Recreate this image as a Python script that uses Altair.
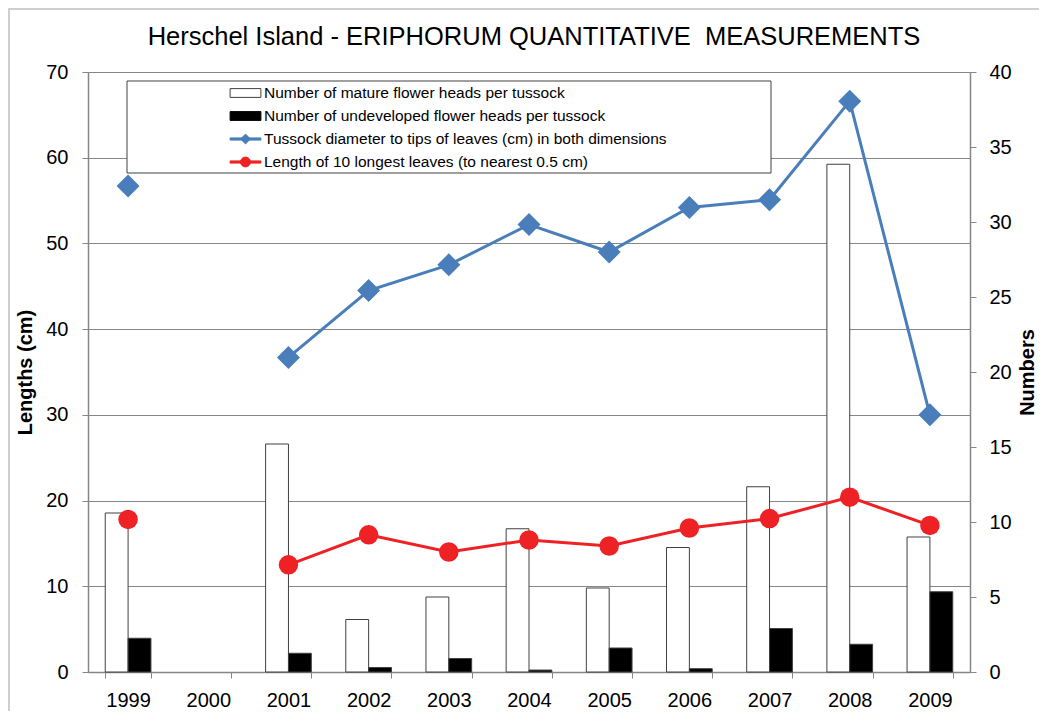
import altair as alt
import pandas as pd

# ---------------- data ----------------
years = ["1999", "2000", "2001", "2002", "2003", "2004", "2005", "2006", "2007", "2008", "2009"]
mature_heads = [10.6, None, 15.2, 3.5, 5.0, 9.55, 5.6, 8.3, 12.35, 33.85, 9.0]
undeveloped_heads = [2.25, None, 1.25, 0.3, 0.9, 0.13, 1.6, 0.22, 2.9, 1.85, 5.35]
tussock_diameter = [56.7, None, 36.7, 44.5, 47.5, 52.2, 49.0, 54.2, 55.1, 66.6, 30.0]
leaf_length = [17.8, None, 12.5, 16.0, 14.0, 15.4, 14.7, 16.8, 17.9, 20.4, 17.1]

legend_labels = [
    "Number of mature flower heads per tussock",
    "Number of undeveloped flower heads per tussock",
    "Tussock diameter to tips of leaves (cm) in both dimensions",
    "Length of 10 longest leaves (to nearest 0.5 cm)",
]
left_ticks = [0, 10, 20, 30, 40, 50, 60, 70]
right_ticks = [0, 5, 10, 15, 20, 25, 30, 35, 40]

title_text = "Herschel Island - ERIPHORUM QUANTITATIVE\u00a0 MEASUREMENTS"

# ---------------- style ----------------
FONT = "Liberation Sans"
GRAY = "#868686"
BLUE = "#4A7EBB"
RED = "#EE2224"

# ---------------- tables ----------------
bar_rows = []
for yr, m, u in zip(years, mature_heads, undeveloped_heads):
    if m is not None:
        bar_rows.append({"year": yr, "series": "mature", "value": m})
    if u is not None:
        bar_rows.append({"year": yr, "series": "undeveloped", "value": u})
bars_df = pd.DataFrame(bar_rows)


def line_table(vals):
    rows, seg = [], 0
    for yr, v in zip(years, vals):
        if v is None:
            seg += 1
            continue
        rows.append({"year": yr, "value": v, "seg": seg})
    return pd.DataFrame(rows)


diam_df = line_table(tussock_diameter)
leaf_df = line_table(leaf_length)
legend_df = pd.DataFrame({"name": legend_labels})
one_df = pd.DataFrame({"a": [0]})

# ---------------- encodings ----------------
x_enc = alt.X(
    "year:O",
    scale=alt.Scale(domain=years, paddingInner=0.43, paddingOuter=0.215),
    axis=alt.Axis(
        title=None, labelAngle=0, tickBand="extent", labelFontSize=20,
        labelFont=FONT, labelColor="black", labelPadding=12, tickSize=6,
        domainColor=GRAY, tickColor=GRAY, grid=False, domainWidth=1.5,
    ),
)

left_axis = alt.Axis(
    title="Lengths (cm)", orient="left", values=left_ticks, grid=True,
    gridColor=GRAY, gridWidth=1, domainColor=GRAY, tickColor=GRAY, tickSize=6,
    labelFontSize=20, labelFont=FONT, labelColor="black", labelPadding=14,
    titleFontSize=20, titleFont=FONT, titleFontWeight="bold", titleColor="black",
    titleX=-63, titleY=300, titleAngle=270, titleAlign="center", titleBaseline="middle",
    domainWidth=1.5,
)
y_left = alt.Y("value:Q", scale=alt.Scale(domain=[0, 70], nice=False, zero=True), axis=left_axis)

right_axis = alt.Axis(
    title="Numbers", orient="right", values=right_ticks, grid=False,
    domainColor=GRAY, tickColor=GRAY, tickSize=6,
    labelFontSize=20, labelFont=FONT, labelColor="black", labelPadding=13,
    titleFontSize=20, titleFont=FONT, titleFontWeight="bold", titleColor="black",
    titleX=57, titleY=300, titleAngle=270, titleAlign="center", titleBaseline="middle",
    domainWidth=1.5,
)
y_right = alt.Y("value:Q", scale=alt.Scale(domain=[0, 40], nice=False, zero=True), axis=right_axis)

# ---------------- layers ----------------
outer_border = alt.Chart(one_df).mark_rect(
    fill="transparent", stroke="#BFBFBF", strokeWidth=1.5
).encode(x=alt.value(-79), x2=alt.value(2000), y=alt.value(-63), y2=alt.value(2000))

legend_box = alt.Chart(one_df).mark_rect(
    fill="white", stroke="#404040", strokeWidth=1
).encode(x=alt.value(39), x2=alt.value(683), y=alt.value(9), y2=alt.value(101))

bars = alt.Chart(bars_df).mark_bar(stroke="#404040", strokeWidth=1).encode(
    x=x_enc,
    xOffset=alt.XOffset("series:N", scale=alt.Scale(domain=["mature", "undeveloped"])),
    y=y_right,
    fill=alt.condition(alt.datum.series == "mature", alt.value("white"), alt.value("black")),
)

diam_line = alt.Chart(diam_df).mark_line(color=BLUE, strokeWidth=3).encode(
    x=x_enc, y=y_left, detail="seg:N")
diam_pts = alt.Chart(diam_df).mark_point(
    shape="diamond", filled=True, color=BLUE, size=529, opacity=1).encode(x=x_enc, y=y_left)
leaf_line = alt.Chart(leaf_df).mark_line(color=RED, strokeWidth=3).encode(
    x=x_enc, y=y_left, detail="seg:N")
leaf_pts = alt.Chart(leaf_df).mark_point(
    shape="circle", filled=True, color=RED, size=380, opacity=1).encode(x=x_enc, y=y_left)

lines = alt.layer(diam_line, diam_pts, leaf_line, leaf_pts)

# legend symbols (custom paths, all sub-paths clockwise so they fill solid)
bar_path = "M-1.4,-0.4H1.4V0.4H-1.4Z"
blue_path = "M-1.4,-0.1H1.4V0.1H-1.4Z M0,-0.45L0.45,0L0,0.45L-0.45,0Z"
red_path = "M-1.4,-0.1H1.4V0.1H-1.4Z M-0.45,0A0.45,0.45 0 1,1 0.45,0A0.45,0.45 0 1,1 -0.45,0Z"

leg = alt.Legend(
    title=None, orient="none", legendX=146, legendY=9.5, padding=0,
    symbolSize=484, symbolStrokeWidth=1, symbolOpacity=1, rowPadding=3,
    labelFontSize=15.5, labelFont=FONT, labelColor="black", labelOffset=7,
    labelLimit=800,
)
legend_layer = alt.Chart(legend_df).mark_point(filled=True, opacity=0).encode(
    shape=alt.Shape("name:N", scale=alt.Scale(domain=legend_labels,
                    range=[bar_path, bar_path, blue_path, red_path]), legend=leg),
    fill=alt.Fill("name:N", scale=alt.Scale(domain=legend_labels,
                  range=["white", "black", BLUE, RED]), legend=leg),
    stroke=alt.Stroke("name:N", scale=alt.Scale(domain=legend_labels,
                      range=["#404040", "black", BLUE, RED]), legend=leg),
)

chart = alt.layer(outer_border, legend_box, bars, lines, legend_layer).resolve_scale(
    y="independent"
).properties(
    width=882,
    height=600,
    autosize=alt.AutoSizeParams(type="none"),
    padding={"left": 80, "top": 64, "right": 69, "bottom": 39},
    title=alt.Title(
        title_text, fontSize=25.5, font=FONT, fontWeight="normal", color="black",
        anchor="middle", frame="group", offset=-62, baseline="alphabetic", dx=5,
    ),
).configure_view(stroke=None).configure(background="white")

chart.save("out.html", embed_options={"renderer": "svg", "actions": False})
